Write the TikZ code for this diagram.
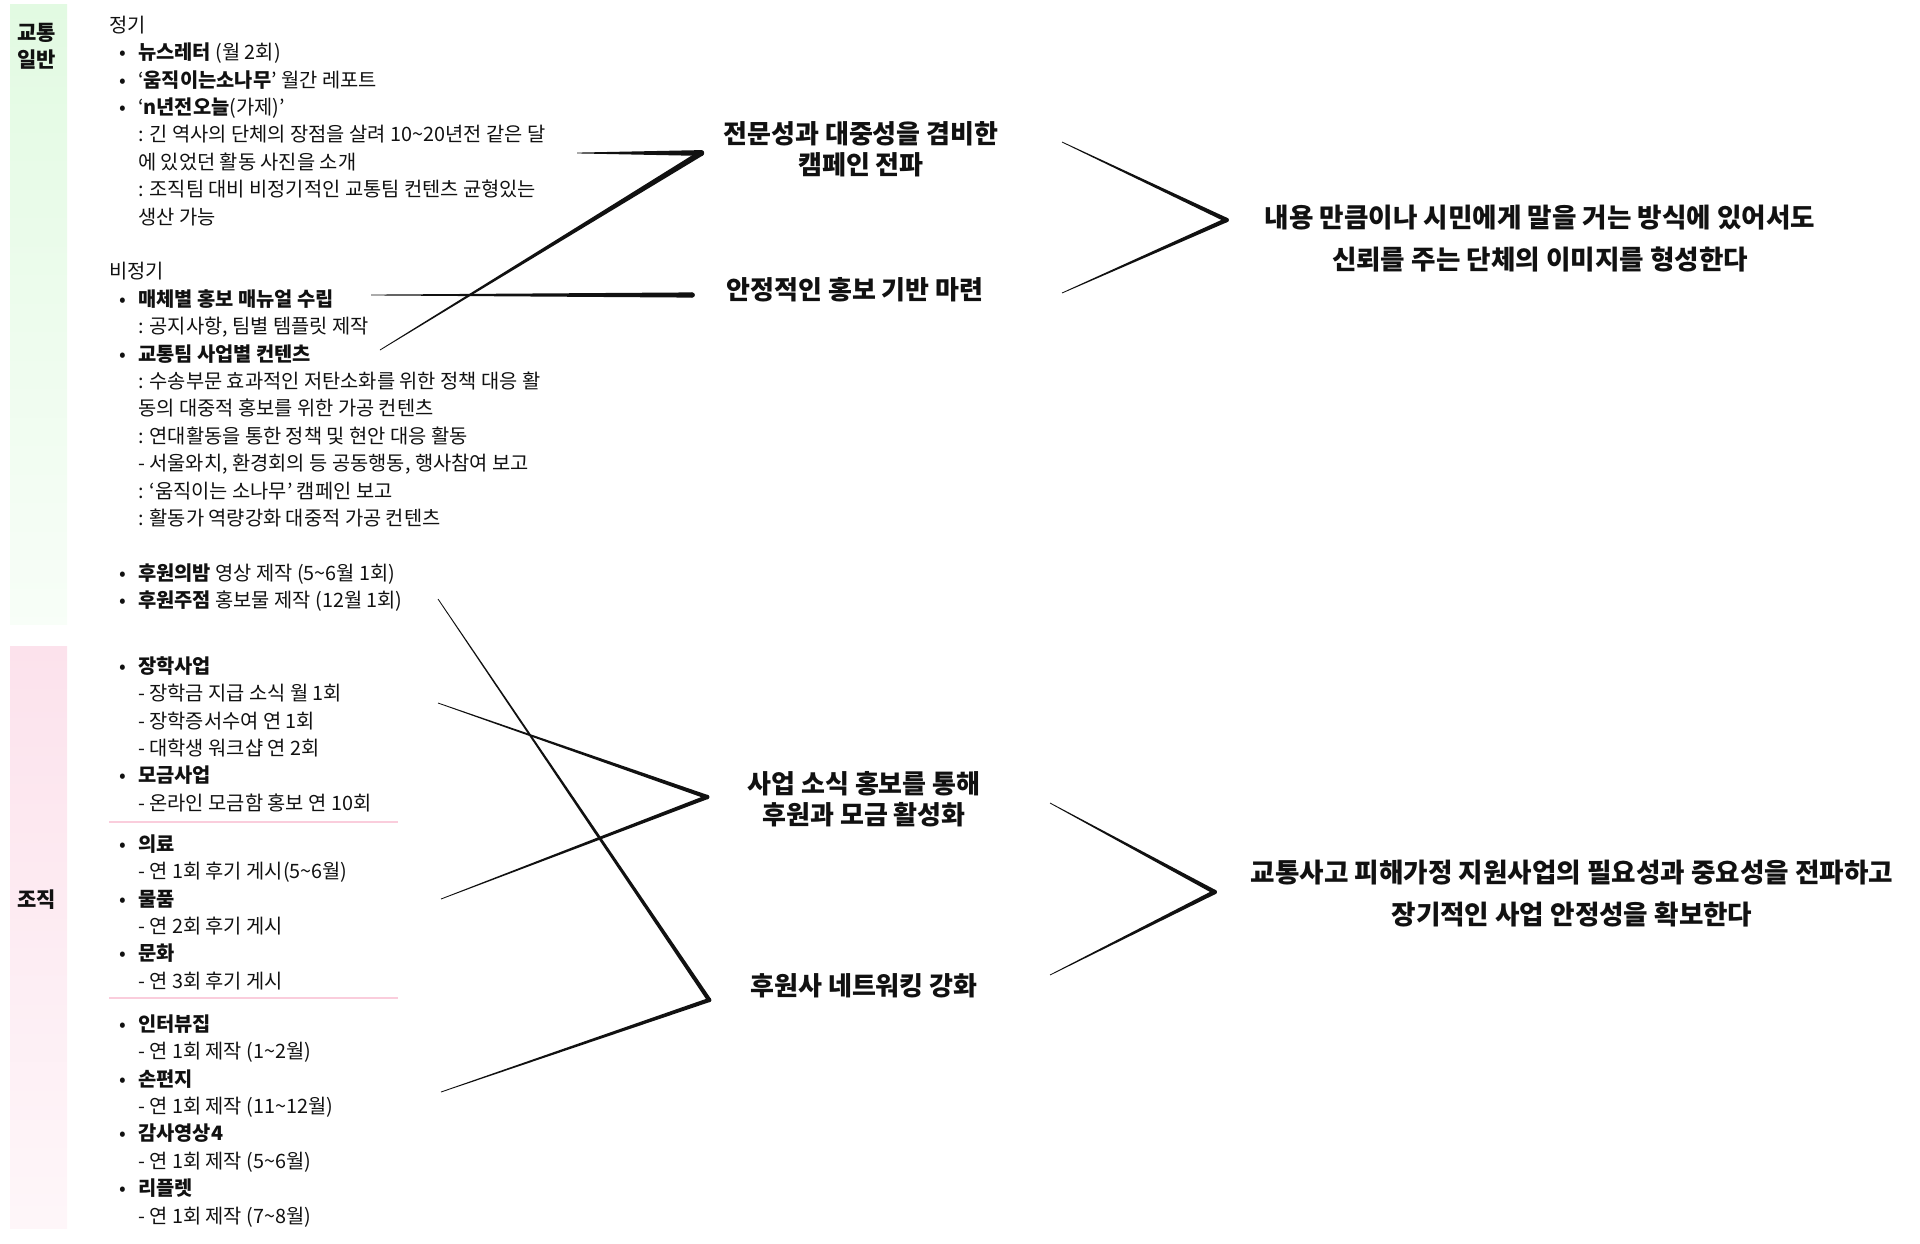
\documentclass[tikz,border=0pt]{standalone}
\usepackage{fontspec}
\setmainfont{Noto Sans CJK KR}
\usetikzlibrary{calc,positioning}

\definecolor{bandgreen}{RGB}{226,250,226}
\definecolor{bandpink}{RGB}{252,226,236}
\definecolor{seppink}{RGB}{250,205,220}
\definecolor{ink}{RGB}{17,17,17}

% list lines: bullet item and continuation
\newcommand{\itm}[1]{\makebox[29pt][l]{\hspace{10pt}\textbullet}#1}
\newcommand{\cnt}[1]{\hspace*{29pt}#1}
% tapered brush stroke, thin at #2, thick at #3
\newcommand{\brushto}[3][2]{%
  \fill[ink] ($(#2)!0.4pt!90:(#3)$) -- ($(#3)!#1pt!-90:(#2)$) -- ($(#3)!#1pt!90:(#2)$) -- ($(#2)!0.4pt!-90:(#3)$) -- cycle;
  \fill[ink] (#3) circle (#1pt);}

\tikzset{
  list/.style={anchor=north west, inner sep=0pt, align=left, font=\fontsize{19.8}{27.4}\selectfont, text=ink},
  goal/.style={inner sep=0pt, align=center, font=\fontsize{26}{31}\selectfont\bfseries, text=ink},
  aim/.style={inner sep=0pt, align=center, font=\fontsize{26.6}{42}\selectfont\bfseries, text=ink},
  tag/.style={inner sep=0pt, align=center, font=\fontsize{21}{27}\selectfont\bfseries, text=ink},
  sep/.style={seppink, line width=1.2pt}
}

\begin{document}
\begin{tikzpicture}[x=1pt,y=-1pt]
\useasboundingbox (0,0) rectangle (1920,1243);

% side bands
\shade[top color=bandgreen, bottom color=bandgreen!25] (10,4) rectangle (67,624);
\shade[top color=bandpink, bottom color=bandpink!30] (10,646) rectangle (67,1228);
\node[tag] (traffic) at (37,46) {교통\\일반};
\node[tag] (org) at (37,900) {조직};

% left lists
\node[list] (general) at (109,13) {\strut 정기\\
  \itm{\textbf{뉴스레터} (월 2회)}\\
  \itm{‘\textbf{움직이는소나무}’ 월간 레포트}\\
  \itm{‘\textbf{n년전오늘}(가제)’}\\
  \cnt{: 긴 역사의 단체의 장점을 살려 10\textasciitilde20년전 같은 달}\\
  \cnt{에 있었던 활동 사진을 소개}\\
  \cnt{: 조직팀 대비 비정기적인 교통팀 컨텐츠 균형있는}\\
  \cnt{생산 가능}\\[27.4pt]
  비정기\\
  \itm{\textbf{매체별 홍보 매뉴얼 수립}}\\
  \cnt{: 공지사항, 팀별 템플릿 제작}\\
  \itm{\textbf{교통팀 사업별 컨텐츠}}\\
  \cnt{: 수송부문 효과적인 저탄소화를 위한 정책 대응 활}\\
  \cnt{동의 대중적 홍보를 위한 가공 컨텐츠}\\
  \cnt{: 연대활동을 통한 정책 및 현안 대응 활동}\\
  \cnt{- 서울와치, 환경회의 등 공동행동, 행사참여 보고}\\
  \cnt{: ‘움직이는 소나무’ 캠페인 보고}\\
  \cnt{: 활동가 역량강화 대중적 가공 컨텐츠}\\[27.4pt]
  \itm{\textbf{후원의밤} 영상 제작 (5\textasciitilde6월 1회)}\\
  \itm{\textbf{후원주점} 홍보물 제작 (12월 1회)}};

\node[list] (orgA) at (109,654) {\strut\itm{\textbf{장학사업}}\\
  \cnt{- 장학금 지급 소식 월 1회}\\
  \cnt{- 장학증서수여 연 1회}\\
  \cnt{- 대학생 워크샵 연 2회}\\
  \itm{\textbf{모금사업}}\\
  \cnt{- 온라인 모금함 홍보 연 10회}};
\draw[sep] (109,822) -- (398,822);
\node[list] (orgB) at (109,832) {\strut\itm{\textbf{의료}}\\
  \cnt{- 연 1회 후기 게시(5\textasciitilde6월)}\\
  \itm{\textbf{물품}}\\
  \cnt{- 연 2회 후기 게시}\\
  \itm{\textbf{문화}}\\
  \cnt{- 연 3회 후기 게시}};
\draw[sep] (109,998) -- (398,998);
\node[list] (orgC) at (109,1012) {\strut\itm{\textbf{인터뷰집}}\\
  \cnt{- 연 1회 제작 (1\textasciitilde2월)}\\
  \itm{\textbf{손편지}}\\
  \cnt{- 연 1회 제작 (11\textasciitilde12월)}\\
  \itm{\textbf{감사영상4}}\\
  \cnt{- 연 1회 제작 (5\textasciitilde6월)}\\
  \itm{\textbf{리플렛}}\\
  \cnt{- 연 1회 제작 (7\textasciitilde8월)}};

% middle goals
\node[goal] (campaign) at (861,149) {전문성과 대중성을 겸비한\\캠페인 전파};
\node[goal] (base) at (855,290) {안정적인 홍보 기반 마련};
\node[goal] (fund) at (864,799) {사업 소식 홍보를 통해\\후원과 모금 활성화};
\node[goal] (network) at (864,986) {후원사 네트워킹 강화};

% right aims
\node[aim] (image) at (1540,239) {내용 만큼이나 시민에게 말을 거는 방식에 있어서도\\신뢰를 주는 단체의 이미지를 형성한다};
\node[aim] (support) at (1572,894) {교통사고 피해가정 지원사업의 필요성과 중요성을 전파하고\\장기적인 사업 안정성을 확보한다};

% stroke ends
\coordinate (zA) at ($(campaign.west)+(-22,4)$);
\coordinate (zB) at ($(base.west)+(-34,5)$);
\coordinate (zC) at ($(fund.west)+(-40,-2)$);
\coordinate (zD) at ($(network.west)+(-41,14)$);
\coordinate (zE) at ($(image.west)+(-38,-19)$);
\coordinate (zF) at ($(support.west)+(-36,-2)$);
\coordinate (n1) at (577,153);
\coordinate (n2) at (380,350);
\coordinate (n3) at (371,295);
\coordinate (e1) at (1062,142);
\coordinate (e2) at (1062,293);
\coordinate (s1) at (438,599);
\coordinate (s2) at (441,1092);
\coordinate (s3) at (438,703);
\coordinate (s4) at (441,899);
\coordinate (e3) at (1050,803);
\coordinate (e4) at (1050,975);

\brushto[2.9]{n1}{zA}
\brushto[2.9]{n2}{zA}
\brushto[2.6]{n3}{zB}
\brushto[2.2]{e1}{zE}
\brushto[2.2]{e2}{zE}
\brushto[2.1]{s1}{zD}
\brushto[2.1]{s2}{zD}
\brushto[2.1]{s3}{zC}
\brushto[2.1]{s4}{zC}
\brushto[2.2]{e3}{zF}
\brushto[2.2]{e4}{zF}
\end{tikzpicture}
\end{document}
